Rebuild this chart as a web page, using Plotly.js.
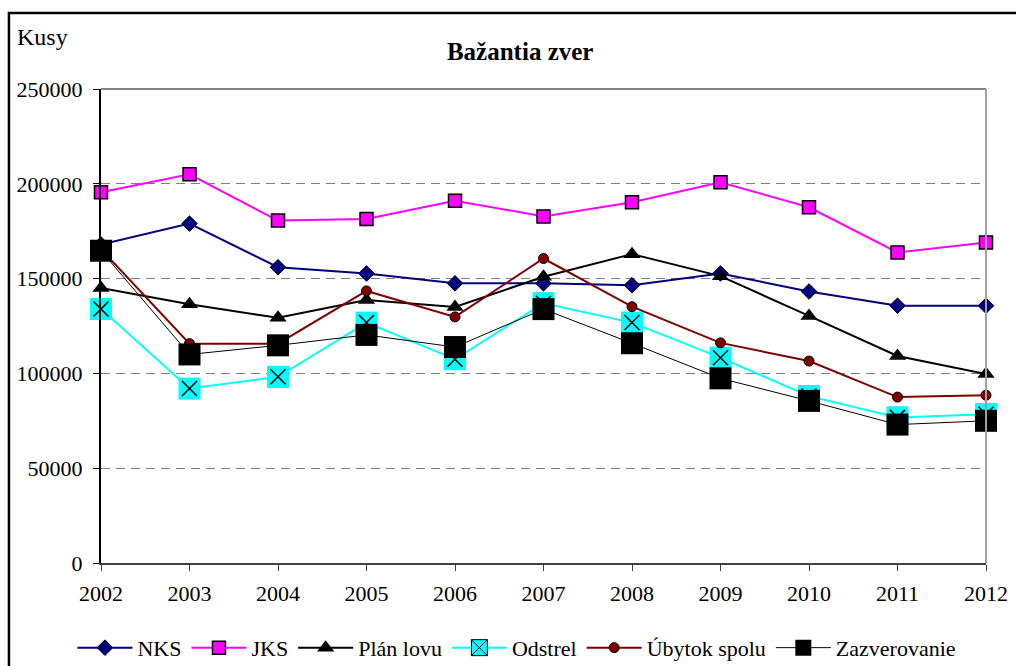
<!DOCTYPE html>
<html>
<head>
<meta charset="utf-8">
<script src="https://cdn.plot.ly/plotly-3.0.1.min.js"></script>
<style>html,body{margin:0;padding:0;background:#fff;}#chart{width:1016px;height:666px;}</style>
</head>
<body>
<div id="chart"></div>
<script>
const years = [2002, 2003, 2004, 2005, 2006, 2007, 2008, 2009, 2010, 2011, 2012];
const nks = [168000, 179000, 156000, 152700, 147500, 147500, 146500, 152700, 143200, 135700, 135700];
const jks = [195500, 205000, 180600, 181500, 191100, 182800, 190300, 200800, 187600, 163800, 169100];
const planLovu = [145000, 136500, 129300, 138700, 135000, 151000, 162900, 151300, 130300, 109200, 99700];
const odstrel = [134000, 92000, 98200, 126800, 107500, 137000, 126800, 108300, 88000, 76800, 78500];
const ubytokSpolu = [165500, 115700, 115700, 143500, 129800, 160600, 135200, 116100, 106500, 87500, 88500];
const zazverovanie = [164700, 110000, 114800, 120300, 113900, 133900, 115900, 97400, 85500, 73000, 75000];
const yTicks = [0, 50000, 100000, 150000, 200000, 250000];

const FONT = "Liberation Serif";

const traces = [
  {x: years, y: nks, name: 'NKS', mode: 'lines+markers', cliponaxis: false,
   line: {color: '#000080', width: 2},
   marker: {symbol: 'diamond', size: 12, color: '#000080', line: {color: '#000000', width: 1}}},
  {x: years, y: jks, name: 'JKS', mode: 'lines+markers', cliponaxis: false,
   line: {color: '#FF00FF', width: 2},
   marker: {symbol: 'square', size: 13, color: '#FF00FF', line: {color: '#000000', width: 1.5}}},
  {x: years, y: planLovu, name: 'Plán lovu', mode: 'lines+markers', cliponaxis: false,
   line: {color: '#000000', width: 2},
   marker: {symbol: 'triangle-up', size: 15, color: '#000000'}},
  {x: years, y: odstrel, name: 'Odstrel', mode: 'lines+markers', cliponaxis: false,
   line: {color: '#00FFFF', width: 2},
   marker: {symbol: 'square-x', size: 20, color: '#00FFFF', line: {color: '#000000', width: 1}}},
  {x: years, y: odstrel, name: 'Odstrel', mode: 'markers', cliponaxis: false, showlegend: false, hoverinfo: 'skip',
   marker: {symbol: 'square', size: 22, color: '#00FFFF', line: {width: 0}}},
  {x: years, y: odstrel, name: 'Odstrel', mode: 'markers', cliponaxis: false, showlegend: false, hoverinfo: 'skip',
   marker: {symbol: 'x-thin-open', size: 15, color: '#000000', line: {color: '#000000', width: 1.5}}},
  {x: years, y: ubytokSpolu, name: 'Úbytok spolu', mode: 'lines+markers', cliponaxis: false,
   line: {color: '#800000', width: 2},
   marker: {symbol: 'circle', size: 10, color: '#800000', line: {color: '#000000', width: 1}}},
  {x: years, y: zazverovanie, name: 'Zazverovanie', mode: 'lines+markers', cliponaxis: false,
   line: {color: '#000000', width: 1},
   marker: {symbol: 'square', size: 22, color: '#000000'}}
];

const layout = {
  width: 1016, height: 666,
  margin: {l: 101, r: 30, t: 89, b: 103, autoexpand: false},
  paper_bgcolor: '#ffffff', plot_bgcolor: '#ffffff',
  font: {family: FONT, size: 22, color: '#000000'},
  title: {text: '<b>Bažantia zver</b>', font: {family: FONT, size: 25, color: '#000'},
          x: 0.512, xref: 'container', xanchor: 'center', y: 0.9234, yref: 'container', yanchor: 'middle'},
  showlegend: true,
  legend: {orientation: 'h', x: 0.470, xanchor: 'center', y: -0.179, yanchor: 'middle',
           font: {family: FONT, size: 22}, itemwidth: 55, bgcolor: 'rgba(0,0,0,0)'},
  xaxis: {range: [2002, 2012], tickmode: 'array', tickvals: years, ticktext: years.map(String),
          showline: true, linecolor: '#404040', linewidth: 2, ticks: 'outside', ticklen: 6, tickcolor: '#404040',
          tickwidth: 1, showgrid: false, zeroline: false, ticklabelstandoff: 4,
          tickfont: {family: FONT, size: 22}},
  yaxis: {range: [0, 250000], tickmode: 'array', tickvals: yTicks, ticktext: yTicks.map(String),
          showline: true, linecolor: '#000000', linewidth: 2, ticks: 'outside', ticklen: 6, tickcolor: '#000000',
          showgrid: true, gridcolor: '#808080', griddash: '9px,6px', gridwidth: 1, zeroline: false,
          ticklabelstandoff: 6, tickfont: {family: FONT, size: 22}},
  annotations: [
    {text: 'Kusy', xref: 'paper', yref: 'paper', x: -0.0972, y: 1.1097, xanchor: 'left', yanchor: 'middle',
     showarrow: false, font: {family: FONT, size: 24, color: '#000'}}
  ],
  shapes: [
    {type: 'line', xref: 'paper', yref: 'paper', x0: 0, x1: 1, y0: 1, y1: 1, line: {color: '#808080', width: 2}},
    {type: 'line', xref: 'paper', yref: 'paper', x0: 1, x1: 1, y0: 0, y1: 1, line: {color: '#A0A0A0', width: 2}},
    {type: 'rect', xref: 'paper', yref: 'paper', x0: -0.104, x1: 1.3, y0: -0.6, y1: 1.1603,
     line: {color: '#000000', width: 2.5}, fillcolor: 'rgba(0,0,0,0)'}
  ]
};

Plotly.newPlot('chart', traces, layout, {displayModeBar: false, staticPlot: true});
</script>
</body>
</html>
